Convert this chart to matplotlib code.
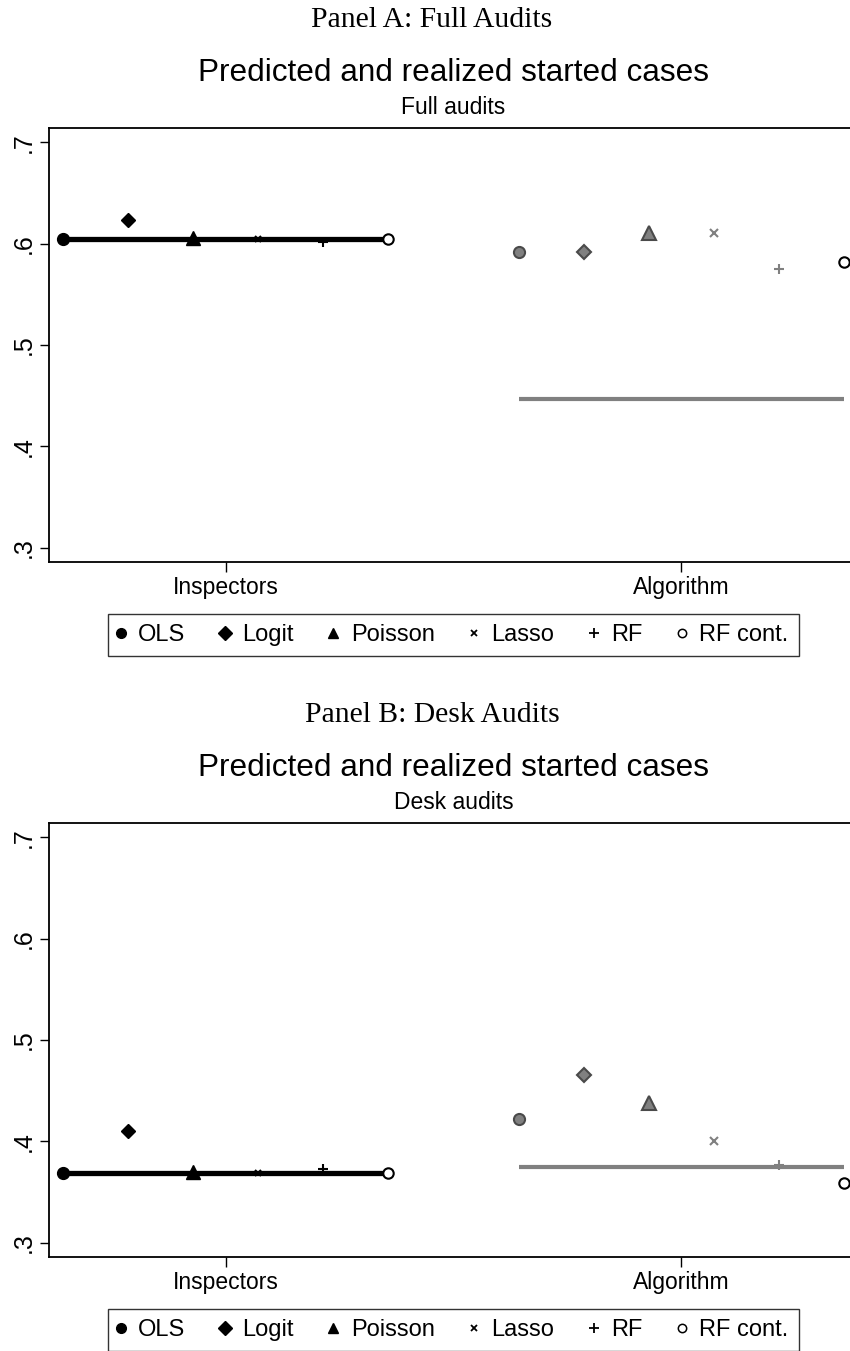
import matplotlib
matplotlib.use("Agg")
import matplotlib.pyplot as plt
from matplotlib.lines import Line2D

# ---------------- data ----------------
models = ["OLS", "Logit", "Poisson", "Lasso", "RF", "RF cont."]
groups = ["Inspectors", "Algorithm"]
yticks = [0.3, 0.4, 0.5, 0.6, 0.7]
ytick_labels = [".3", ".4", ".5", ".6", ".7"]

full_insp_pred = [0.605, 0.623, 0.606, 0.605, 0.6015, 0.605]
full_insp_real = 0.605
full_alg_pred = [0.592, 0.592, 0.611, 0.611, 0.575, 0.5815]
full_alg_real = 0.447

desk_insp_pred = [0.369, 0.4105, 0.370, 0.369, 0.373, 0.369]
desk_insp_real = 0.369
desk_alg_pred = [0.4215, 0.4655, 0.438, 0.400, 0.377, 0.359]
desk_alg_real = 0.375

panel_titles = ["Panel A: Full Audits", "Panel B: Desk Audits"]
main_title = "Predicted and realized started cases"
subtitles = ["Full audits", "Desk audits"]

# ---------------- style ----------------
W, H = 850, 1351
fig = plt.figure(figsize=(W / 100, H / 100), dpi=100)
SANS = ["Liberation Sans", "DejaVu Sans"]
SERIF = ["Liberation Serif", "DejaVu Serif"]
plt.rcParams["font.family"] = SANS

insp_pos = list(range(1, 7))
alg_pos = list(range(8, 14))
markers = ["o", "D", "^", "x", "+", "o"]
ins_ms = [8.5, 7.5, 9.5, 5, 7, 7.5]
alg_ms = [8, 7.5, 9.5, 5.5, 7.5, 7.5]
GRAY = "#808080"
DGRAY = "#4a4a4a"

def px_to_fig_y(py):
    return 1 - py / H

def draw_panel(offset, ins_pred, ins_real, alg_pred, alg_real, ptitle, subtitle):
    top, bottom = 128 + offset, 562 + offset
    left, right = 49, 858
    ax = fig.add_axes([left / W, 1 - bottom / H, (right - left) / W, (bottom - top) / H])
    ax.set_xlim(0.785, 13.215)
    ax.set_ylim(0.5 - 0.2143, 0.5 + 0.2143)

    # realized lines
    ax.plot([insp_pos[0], insp_pos[-1]], [ins_real, ins_real], color="black",
            lw=3.8, solid_capstyle="butt", zorder=2)
    ax.plot([alg_pos[0], alg_pos[-1]], [alg_real, alg_real], color=GRAY,
            lw=3, solid_capstyle="butt", zorder=2)

    # inspector predictions (black)
    for i, m in enumerate(markers):
        if i == 5:
            ax.plot(insp_pos[i], ins_pred[i], marker=m, ms=ins_ms[i], mfc="white",
                    mec="black", mew=1.5, ls="none", zorder=4)
        elif m in ("x", "+"):
            ax.plot(insp_pos[i], ins_pred[i], marker=m, ms=ins_ms[i], color="black",
                    mew=1.5, ls="none", zorder=4)
        else:
            ax.plot(insp_pos[i], ins_pred[i], marker=m, ms=ins_ms[i], color="black",
                    mec="black", ls="none", zorder=4)

    # algorithm predictions (gray)
    for i, m in enumerate(markers):
        if i == 5:
            ax.plot(alg_pos[i], alg_pred[i], marker=m, ms=alg_ms[i], mfc="white",
                    mec="black", mew=1.5, ls="none", zorder=4)
        elif m in ("x", "+"):
            ax.plot(alg_pos[i], alg_pred[i], marker=m, ms=alg_ms[i], color=GRAY,
                    mew=1.5, ls="none", zorder=4)
        else:
            ax.plot(alg_pos[i], alg_pred[i], marker=m, ms=alg_ms[i], mfc=GRAY,
                    mec=DGRAY, mew=1.5, ls="none", zorder=4)

    ax.set_yticks(yticks)
    ax.set_yticklabels(ytick_labels, rotation=90, va="center", fontsize=18)
    ax.set_xticks([3.5, 10.5])
    ax.set_xticklabels(groups, fontsize=16.5)
    ax.tick_params(axis="y", length=6.5, width=1, pad=3)
    ax.tick_params(axis="x", length=7, width=1, pad=3)
    for s in ax.spines.values():
        s.set_linewidth(1.3)
    ax.spines["right"].set_visible(False)

    handles = []
    leg_ms = [7, 7, 7.5, 4.5, 6.5, 6]
    for i, m in enumerate(markers):
        if i == 5:
            h = Line2D([], [], marker=m, ms=leg_ms[i], mfc="white", mec="black",
                       mew=1.1, ls="none")
        elif m in ("x", "+"):
            h = Line2D([], [], marker=m, ms=leg_ms[i], color="black", mew=1.3, ls="none")
        else:
            h = Line2D([], [], marker=m, ms=leg_ms[i], color="black", ls="none")
        handles.append(h)
    leg = ax.legend(handles, models, loc="upper center",
                    bbox_to_anchor=(0.5, -(614 - 562) / (bottom - top)),
                    ncol=6, frameon=True, fancybox=False, edgecolor="black",
                    fontsize=17, handlelength=0.2, handletextpad=0.64,
                    handleheight=0.7, columnspacing=1.57, borderpad=0.42,
                    borderaxespad=0)
    leg.get_frame().set_linewidth(1.0)

    fig.text(432 / W, px_to_fig_y(20 + offset), ptitle, ha="center", va="center",
             fontsize=21.3, family=SERIF)
    fig.text(453.5 / W, px_to_fig_y(73 + offset), main_title, ha="center",
             va="center", fontsize=22.7)
    fig.text(453.5 / W, px_to_fig_y(108 + offset), subtitle, ha="center",
             va="center", fontsize=16.5)
    return ax

draw_panel(0, full_insp_pred, full_insp_real, full_alg_pred, full_alg_real,
           panel_titles[0], subtitles[0])
draw_panel(695, desk_insp_pred, desk_insp_real, desk_alg_pred, desk_alg_real,
           panel_titles[1], subtitles[1])

fig.savefig("out.png", dpi=100)
